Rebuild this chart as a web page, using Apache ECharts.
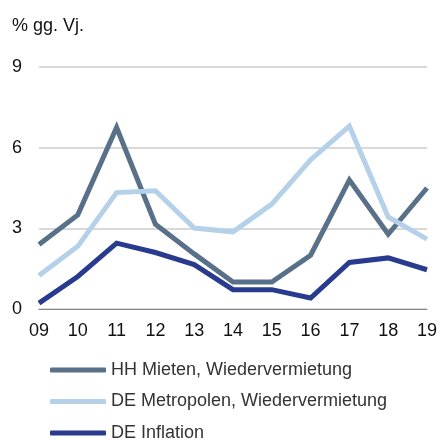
<!DOCTYPE html>
<html>
<head>
<meta charset="utf-8">
<script src="https://cdn.jsdelivr.net/npm/echarts@6/dist/echarts.min.js"></script>
<style>html,body{margin:0;padding:0;background:#fff}#c{width:440px;height:441px}</style>
</head>
<body>
<div id="c"></div>
<script>
const categories = ['09','10','11','12','13','14','15','16','17','18','19'];
const hhMieten = [2.4, 3.5, 6.75, 3.15, 2.05, 1.0, 1.0, 2.0, 4.8, 2.78, 4.5];
const deMetropolen = [1.25, 2.33, 4.33, 4.4, 3.01, 2.87, 3.9, 5.55, 6.8, 3.42, 2.6];
const deInflation = [0.22, 1.21, 2.45, 2.1, 1.65, 0.72, 0.72, 0.41, 1.73, 1.9, 1.46];
const seriesNames = ['HH Mieten, Wiedervermietung', 'DE Metropolen, Wiedervermietung', 'DE Inflation'];
const yTicks = [0, 3, 6, 9];

const colors = ['#587189', '#b5d1ea', '#283b8e'];
const font = '"Liberation Sans", Arial, sans-serif';
const chart = echarts.init(document.getElementById('c'), null, {renderer: 'canvas'});
const mk = (name, data, color) => ({
  name, type: 'line', data, symbol: 'none',
  lineStyle: {width: 5, color, cap: 'butt', join: 'miter'},
  itemStyle: {color}
});
chart.setOption({
  animation: false,
  title: {text: '% gg. Vj.', left: 7, top: 12, textStyle: {fontFamily: font, fontSize: 18, fontWeight: 'normal', color: '#111'}},
  grid: {left: 39, right: 12, top: 67, bottom: 132},
  xAxis: {
    type: 'category', data: categories, boundaryGap: false,
    axisLine: {show: true, lineStyle: {color: '#888', width: 1}},
    axisTick: {show: false},
    axisLabel: {fontFamily: font, fontSize: 18, color: '#111', margin: 13}
  },
  yAxis: {
    type: 'value', min: yTicks[0], max: yTicks[yTicks.length - 1], interval: 3,
    axisLine: {show: false}, axisTick: {show: false},
    splitLine: {lineStyle: {color: '#cccccc', width: 1.5}},
    axisLabel: {fontFamily: font, fontSize: 18, color: '#111', margin: 17}
  },
  legend: {
    orient: 'vertical', left: 50, top: 361, height: 120, padding: 0, itemGap: 13.5,
    itemWidth: 56, itemHeight: 5, icon: 'roundRect',
    data: seriesNames,
    textStyle: {fontFamily: font, fontSize: 18, color: '#333'}
  },
  series: [
    mk(seriesNames[0], hhMieten, colors[0]),
    mk(seriesNames[1], deMetropolen, colors[1]),
    mk(seriesNames[2], deInflation, colors[2])
  ]
});
</script>
</body>
</html>
